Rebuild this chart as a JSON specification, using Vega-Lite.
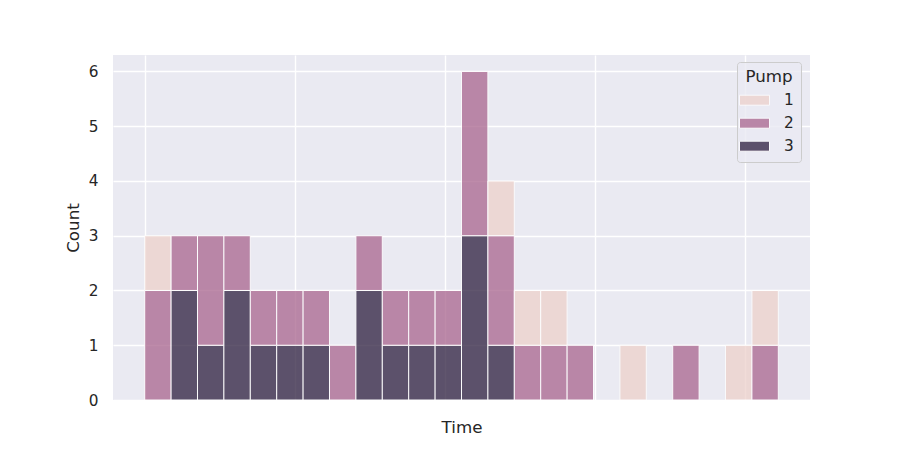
{
  "$schema": "https://vega.github.io/schema/vega-lite/v6.json",
  "width": 697,
  "height": 345,
  "autosize": {"type": "none"},
  "padding": {"left": 113, "top": 55, "right": 90, "bottom": 50},
  "background": "white",
  "config": {
    "view": {"fill": "#EAEAF2", "stroke": null},
    "font": "DejaVu Sans"
  },
  "data": {
    "values": [
      {"start": 0, "end": 1, "pump": 2, "count": 2},
      {"start": 0, "end": 1, "pump": 1, "count": 1},
      {"start": 1, "end": 2, "pump": 3, "count": 2},
      {"start": 1, "end": 2, "pump": 2, "count": 1},
      {"start": 2, "end": 3, "pump": 3, "count": 1},
      {"start": 2, "end": 3, "pump": 2, "count": 2},
      {"start": 3, "end": 4, "pump": 3, "count": 2},
      {"start": 3, "end": 4, "pump": 2, "count": 1},
      {"start": 4, "end": 5, "pump": 3, "count": 1},
      {"start": 4, "end": 5, "pump": 2, "count": 1},
      {"start": 5, "end": 6, "pump": 3, "count": 1},
      {"start": 5, "end": 6, "pump": 2, "count": 1},
      {"start": 6, "end": 7, "pump": 3, "count": 1},
      {"start": 6, "end": 7, "pump": 2, "count": 1},
      {"start": 7, "end": 8, "pump": 2, "count": 1},
      {"start": 8, "end": 9, "pump": 3, "count": 2},
      {"start": 8, "end": 9, "pump": 2, "count": 1},
      {"start": 9, "end": 10, "pump": 3, "count": 1},
      {"start": 9, "end": 10, "pump": 2, "count": 1},
      {"start": 10, "end": 11, "pump": 3, "count": 1},
      {"start": 10, "end": 11, "pump": 2, "count": 1},
      {"start": 11, "end": 12, "pump": 3, "count": 1},
      {"start": 11, "end": 12, "pump": 2, "count": 1},
      {"start": 12, "end": 13, "pump": 3, "count": 3},
      {"start": 12, "end": 13, "pump": 2, "count": 3},
      {"start": 13, "end": 14, "pump": 3, "count": 1},
      {"start": 13, "end": 14, "pump": 2, "count": 2},
      {"start": 13, "end": 14, "pump": 1, "count": 1},
      {"start": 14, "end": 15, "pump": 2, "count": 1},
      {"start": 14, "end": 15, "pump": 1, "count": 1},
      {"start": 15, "end": 16, "pump": 2, "count": 1},
      {"start": 15, "end": 16, "pump": 1, "count": 1},
      {"start": 16, "end": 17, "pump": 2, "count": 1},
      {"start": 18, "end": 19, "pump": 1, "count": 1},
      {"start": 20, "end": 21, "pump": 2, "count": 1},
      {"start": 22, "end": 23, "pump": 1, "count": 1},
      {"start": 23, "end": 24, "pump": 2, "count": 1},
      {"start": 23, "end": 24, "pump": 1, "count": 1}
    ]
  },
  "transform": [
    {
      "stack": "count",
      "groupby": ["start"],
      "sort": [{"field": "pump", "order": "descending"}],
      "as": ["y0", "y1"]
    }
  ],
  "mark": {"type": "bar", "opacity": 0.75, "stroke": "white", "strokeWidth": 1},
  "encoding": {
    "x": {
      "field": "start",
      "type": "quantitative",
      "scale": {"domain": [-1.2, 25.2], "nice": false, "zero": false, "padding": 0},
      "axis": {
        "title": "Time",
        "labels": false,
        "ticks": false,
        "domain": false,
        "values": [0, 5.68, 11.36, 17.04, 22.72],
        "grid": true,
        "gridColor": "white",
        "gridWidth": 1.4,
        "titleFontSize": 16.7,
        "titleFontWeight": "normal",
        "titleColor": "#262626",
        "titlePadding": 19
      }
    },
    "x2": {"field": "end"},
    "y": {
      "field": "y1",
      "type": "quantitative",
      "scale": {"domain": [0, 6.3], "nice": false, "padding": 0},
      "axis": {
        "title": "Count",
        "values": [0, 1, 2, 3, 4, 5, 6],
        "ticks": false,
        "domain": false,
        "labelFontSize": 15.3,
        "labelColor": "#262626",
        "labelPadding": 15,
        "grid": true,
        "gridColor": "white",
        "gridWidth": 1.4,
        "titleFontSize": 16.7,
        "titleFontWeight": "normal",
        "titleColor": "#262626",
        "titlePadding": 6
      }
    },
    "y2": {"field": "y0"},
    "color": {
      "field": "pump",
      "type": "ordinal",
      "scale": {"domain": [1, 2, 3], "range": ["#EDD1CB", "#A9658E", "#2D1E3E"]},
      "legend": {
        "title": "Pump",
        "orient": "none",
        "legendX": 624,
        "legendY": 7,
        "padding": 7,
        "fillColor": "rgba(234,234,242,0.8)",
        "strokeColor": "#CCCCCC",
        "cornerRadius": 3,
        "titleFontSize": 16.7,
        "titleFontWeight": "normal",
        "titleColor": "#262626",
        "titleAnchor": "middle",
        "titleAlign": "center",
        "titlePadding": 4,
        "labelFontSize": 15.3,
        "labelColor": "#262626",
        "labelOffset": 19,
        "symbolType": "M-1.5,-0.5H1.5V0.5H-1.5Z",
        "symbolSize": 400,
        "symbolStrokeColor": "white",
        "symbolStrokeWidth": 1,
        "symbolOpacity": 0.75,
        "rowPadding": 4
      }
    }
  }
}
